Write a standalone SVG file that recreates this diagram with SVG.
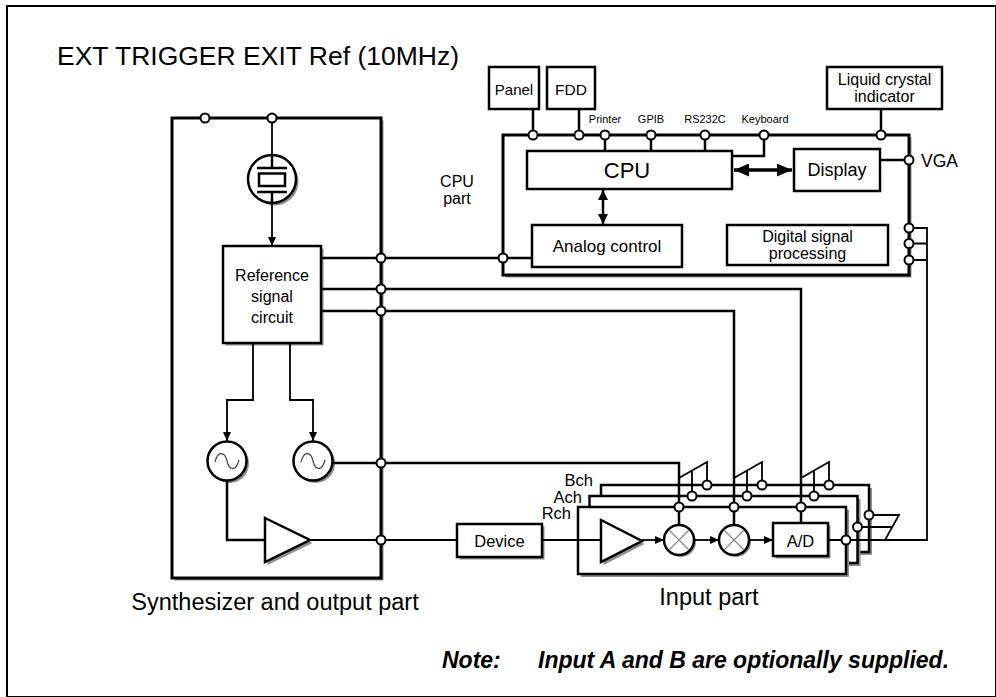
<svg xmlns="http://www.w3.org/2000/svg" width="996" height="697" viewBox="0 0 996 697">
<defs>
<marker id="a" markerUnits="userSpaceOnUse" markerWidth="9" markerHeight="8" refX="9" refY="4" orient="auto"><path d="M0,0 L9,4 L0,8 z" fill="#000"/></marker>
<marker id="b" markerUnits="userSpaceOnUse" markerWidth="15" markerHeight="13" refX="15" refY="6.5" orient="auto-start-reverse"><path d="M0,0 L15,6.5 L0,13 z" fill="#000"/></marker>
<marker id="m" markerUnits="userSpaceOnUse" markerWidth="10" markerHeight="10" refX="10" refY="5" orient="auto-start-reverse"><path d="M0,0 L10,5 L0,10 z" fill="#000"/></marker>
</defs>
<style>
text{font-family:"Liberation Sans",Arial,Helvetica,sans-serif;fill:#000}
.bx{fill:#fff;stroke:#000;stroke-width:2.5}
.sh{fill:#8c8c8c;stroke:none}
.c{fill:none;stroke:#000;stroke-width:2.5}
.t{fill:none;stroke:#000;stroke-width:1.8}
.j{fill:#fff;stroke:#000;stroke-width:2}
.x{stroke:#8a8a8a;stroke-width:1.2}
.sn{fill:none;stroke:#444;stroke-width:1.2}
.m{text-anchor:middle}
</style>
<rect width="996" height="697" fill="#fff"/>
<rect x="7" y="6" width="989" height="691" fill="none" stroke="#000" stroke-width="2"/>

<g id="synth">
<rect class="sh" x="174.5" y="120.5" width="209" height="460"/>
<rect x="172" y="118" width="209" height="460" fill="#fff" stroke="#000" stroke-width="3"/>
</g>
<g id="crystal">
<circle class="sh" cx="274.5" cy="181.5" r="24"/>
<circle cx="272" cy="179" r="24" fill="#fff" stroke="#000" stroke-width="2.5"/>
<path d="M272,155 V168 M257,168 H287 M272,192 V203 M257,192 H287" fill="none" stroke="#000" stroke-width="2.5"/>
<rect x="259" y="173.5" width="26" height="12.5" fill="none" stroke="#000" stroke-width="2.5"/>
</g>
<g id="refsig">
<rect class="sh" x="225.5" y="248.5" width="98" height="97"/>
<rect class="bx" x="223" y="246" width="98" height="97"/>
<text class="m" x="272" y="281" font-size="16">Reference</text>
<text class="m" x="272" y="302" font-size="16">signal</text>
<text class="m" x="272" y="323" font-size="16">circuit</text>
</g>
<g id="osc1">
<circle class="sh" cx="229.5" cy="463.5" r="19.5"/>
<circle cx="227" cy="461" r="19.5" fill="#fff" stroke="#000" stroke-width="2.5"/>
<path class="sn" d="M215,462 C218,450 225,452 227,461 C229,470 236,472 239,460"/>
</g>
<g id="osc2">
<circle class="sh" cx="315.5" cy="463.5" r="19.5"/>
<circle cx="313" cy="461" r="19.5" fill="#fff" stroke="#000" stroke-width="2.5"/>
<path class="sn" d="M301,462 C304,450 311,452 313,461 C315,470 322,472 325,460"/>
</g>
<g id="outamp">
<polygon class="sh" points="267.5,521 312.5,543 267.5,565"/>
<polygon points="265,518 310,540 265,562" fill="#fff" stroke="#000" stroke-width="2.5"/>
</g>
<g id="device">
<rect class="sh" x="459.5" y="526.5" width="85" height="33"/>
<rect class="bx" x="457" y="524" width="85" height="33"/>
<text class="m" x="499.5" y="547" font-size="16.5">Device</text>
</g>

<g id="cpupart">
<rect class="sh" x="505.5" y="137.5" width="406" height="140"/>
<rect x="503" y="135" width="406" height="140" fill="#fff" stroke="#000" stroke-width="3"/>
</g>
<g id="panel">
<rect class="bx" x="489" y="67" width="50" height="42"/>
<text class="m" x="514" y="95" font-size="15">Panel</text>
</g>
<g id="fdd">
<rect class="bx" x="547" y="67" width="48" height="42"/>
<text class="m" x="571" y="95" font-size="15.5">FDD</text>
</g>
<g id="lcd">
<rect class="bx" x="827" y="67" width="115" height="42"/>
<text class="m" x="884.5" y="85" font-size="16">Liquid crystal</text>
<text class="m" x="884.5" y="102" font-size="16">indicator</text>
</g>
<g id="cpu">
<rect class="bx" x="527" y="151" width="205" height="38"/>
<text class="m" x="627" y="178" font-size="22">CPU</text>
</g>
<g id="display">
<rect class="bx" x="794" y="149" width="86" height="42"/>
<text class="m" x="837" y="176" font-size="18">Display</text>
</g>
<g id="analog">
<rect class="bx" x="532" y="225" width="150" height="42"/>
<text class="m" x="607" y="252" font-size="17">Analog control</text>
</g>
<g id="dsp">
<rect class="bx" x="727" y="225" width="161" height="40"/>
<text class="m" x="807.5" y="242" font-size="16">Digital signal</text>
<text class="m" x="807.5" y="259" font-size="16">processing</text>
</g>

<g id="bch">
<rect class="sh" x="604" y="488" width="268" height="67"/>
<rect class="bx" x="601" y="485" width="268" height="67"/>
</g>
<g id="ach">
<rect class="sh" x="592.5" y="499" width="268" height="67"/>
<rect class="bx" x="589.5" y="496" width="268" height="67"/>
</g>
<g id="rch">
<rect class="sh" x="581" y="510" width="268" height="67"/>
<rect class="bx" x="578" y="507" width="268" height="67"/>
</g>
<g id="inamp">
<polygon class="sh" points="603.5,523 644.5,544 603.5,565"/>
<polygon points="601,520 642,541 601,562" fill="#fff" stroke="#000" stroke-width="2.5"/>
</g>
<g id="mixer1">
<circle class="sh" cx="681" cy="542" r="15"/>
<circle cx="679" cy="540" r="15" fill="#fff" stroke="#000" stroke-width="2.5"/>
<path class="x" d="M669,530 L689,550 M689,530 L669,550"/>
</g>
<g id="mixer2">
<circle class="sh" cx="736" cy="542" r="15"/>
<circle cx="734" cy="540" r="15" fill="#fff" stroke="#000" stroke-width="2.5"/>
<path class="x" d="M724,530 L744,550 M744,530 L724,550"/>
</g>
<g id="ad">
<rect class="sh" x="775.5" y="525.5" width="55" height="33"/>
<rect class="bx" x="773" y="523" width="55" height="33"/>
<text class="m" x="800.5" y="547" font-size="16.5">A/D</text>
</g>

<g id="connectors">
<path class="t" d="M272,118 V155"/>
<path class="t" d="M272,203 V246" marker-end="url(#a)"/>
<path class="c" d="M321,258 H532"/>
<path class="c" d="M321,289 H801 V523"/>
<path class="c" d="M321,311 H734 V525"/>
<path class="c" d="M332.5,463 H679 V525"/>
<path class="t" d="M253,343 V400 H227 V441" marker-end="url(#a)"/>
<path class="t" d="M290,343 V400 H313 V441" marker-end="url(#a)"/>
<path class="c" d="M227,480.5 V540 H265"/>
<path class="t" d="M310,540 H457"/>
<path class="t" d="M542,540 H601"/>
<path class="t" d="M642,540 H664" marker-end="url(#a)"/>
<path class="t" d="M694,540 H719" marker-end="url(#a)"/>
<path class="t" d="M749,540 H773" marker-end="url(#a)"/>
<path class="t" d="M679,478 L707,462 V485 M692,470.6 V496"/>
<path class="t" d="M734,478 L762,462 V485 M747,470.6 V496"/>
<path class="t" d="M801,478 L829,462 V485 M814,470.6 V496"/>
<path class="t" d="M828,540 H927 V228 H909 M909,243.5 H927 M909,260 H927"/>
<path class="t" d="M857.5,527 H892 M869,515 H899 L885,540"/>
<path class="c" d="M533,109 V135 M579,109 V135 M605,135 V151 M651,135 V151 M705,135 V151 M764,135 V156 H732 M881,109 V135 M880,160 H909"/>
<path d="M734,170 H792" fill="none" stroke="#000" stroke-width="3.5" marker-start="url(#b)" marker-end="url(#b)"/>
<path d="M603,190 V224" fill="none" stroke="#000" stroke-width="2.5" marker-start="url(#m)" marker-end="url(#m)"/>
<g>
<circle class="j" cx="205" cy="118" r="4.5"/><circle class="j" cx="272" cy="118" r="4.5"/>
<circle class="j" cx="381" cy="258" r="4.5"/><circle class="j" cx="381" cy="289" r="4.5"/><circle class="j" cx="381" cy="311" r="4.5"/><circle class="j" cx="381" cy="463" r="4.5"/><circle class="j" cx="381" cy="540" r="4.5"/>
<circle class="j" cx="503" cy="258" r="4.5"/>
<circle class="j" cx="533" cy="135" r="4.5"/><circle class="j" cx="579" cy="135" r="4.5"/><circle class="j" cx="605" cy="135" r="4.5"/><circle class="j" cx="651" cy="135" r="4.5"/><circle class="j" cx="705" cy="135" r="4.5"/><circle class="j" cx="764" cy="135" r="4.5"/><circle class="j" cx="881" cy="135" r="4.5"/>
<circle class="j" cx="909" cy="160" r="4.5"/><circle class="j" cx="909" cy="228" r="4.5"/><circle class="j" cx="909" cy="243.5" r="4.5"/><circle class="j" cx="909" cy="260" r="4.5"/>
<circle class="j" cx="679" cy="507" r="4.5"/><circle class="j" cx="734" cy="507" r="4.5"/><circle class="j" cx="801" cy="507" r="4.5"/>
<circle class="j" cx="692" cy="496" r="4.5"/><circle class="j" cx="747" cy="496" r="4.5"/><circle class="j" cx="814" cy="496" r="4.5"/>
<circle class="j" cx="707" cy="485" r="4.5"/><circle class="j" cx="762" cy="485" r="4.5"/><circle class="j" cx="829" cy="485" r="4.5"/>
<circle class="j" cx="846" cy="540" r="4.5"/><circle class="j" cx="857.5" cy="527" r="4.5"/><circle class="j" cx="869" cy="515" r="4.5"/>
</g>
</g>

<g id="labels">
<text x="57" y="65" font-size="26.5">EXT TRIGGER EXIT Ref (10MHz)</text>
<text class="m" x="457" y="187" font-size="16">CPU</text>
<text class="m" x="457" y="204" font-size="16">part</text>
<text class="m" x="605" y="123" font-size="11">Printer</text>
<text class="m" x="651" y="123" font-size="11">GPIB</text>
<text class="m" x="705" y="123" font-size="11">RS232C</text>
<text class="m" x="765" y="123" font-size="11">Keyboard</text>
<text x="921" y="167" font-size="17.5">VGA</text>
<text x="593" y="486" font-size="16.5" text-anchor="end">Bch</text>
<text x="582" y="503" font-size="16.5" text-anchor="end">Ach</text>
<text x="571" y="519" font-size="16.5" text-anchor="end">Rch</text>
<text class="m" x="275" y="610" font-size="23.5">Synthesizer and output part</text>
<text class="m" x="709" y="605" font-size="23.5">Input part</text>
<text x="442" y="668" font-size="23" font-weight="bold" font-style="italic">Note:</text>
<text x="538" y="668" font-size="23" font-weight="bold" font-style="italic">Input A and B are optionally supplied.</text>
</g>
</svg>
